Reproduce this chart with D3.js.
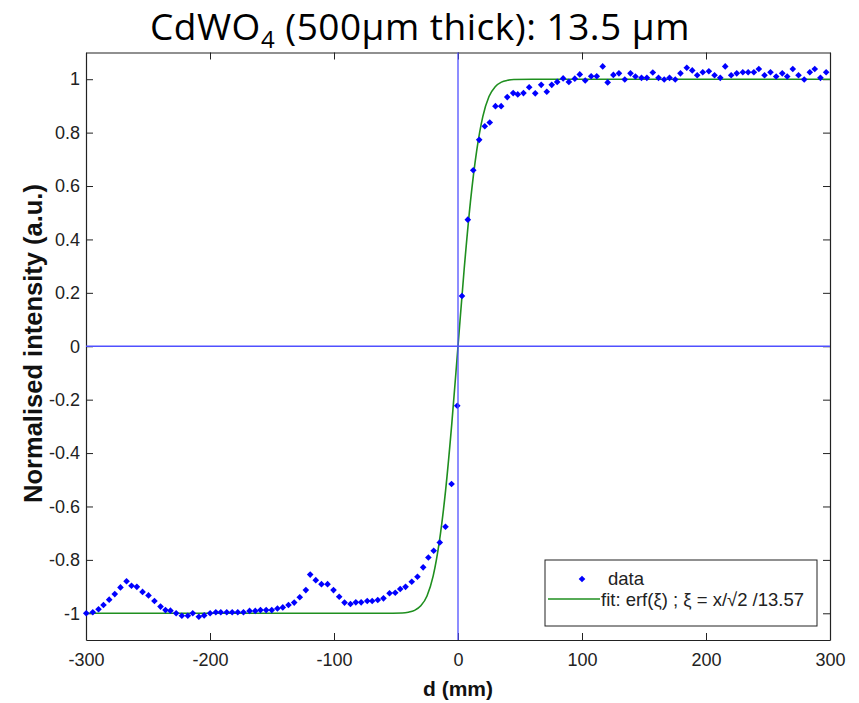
<!DOCTYPE html>
<html>
<head>
<meta charset="utf-8">
<script src="https://cdn.jsdelivr.net/npm/d3@7"></script>
<style>
  body { margin: 0; background: #fff; }
  svg { display: block; }
</style>
</head>
<body>
<div id="chart-wrapper"></div>
<script>
// measured points (d in mm, normalised intensity)
const dataD = [
  -299.8, -294.5, -289.9, -285.9, -281.3, -276.8, -272.2, -267.3, -263.3, -259.0,
  -254.4, -249.6, -244.8, -239.9, -235.9, -231.9, -227.3, -222.7, -217.9, -213.9,
  -209.0, -204.7, -199.9, -195.3, -191.3, -186.5, -182.1, -177.6, -173.0, -168.1,
  -163.5, -159.3, -154.7, -150.2, -145.6, -141.3, -136.7, -132.1, -127.6, -122.7,
  -119.2, -114.7, -110.1, -105.2, -100.4, -95.8, -91.5, -86.7, -82.4,
  -78.1, -73.2, -69.2, -64.7, -60.1, -55.2, -50.6, -46.6, -42.3, -37.3,
  -32.7, -28.1, -23.9, -19.6, -14.7, -10.1, -5.2, -0.6, 3.2, 7.9,
  12.3, 17.1, 21.6, 25.6, 30.2, 34.8, 39.7, 44.5, 48.2, 52.8,
  57.4, 62.3, 67.1, 71.6, 75.6, 80.0, 84.8, 89.4, 94.2, 98.2,
  102.6, 107.4, 111.9,
  116.7, 120.7, 125.3, 129.8, 134.5, 139.1, 143.1, 148.0, 152.3, 157.1,
  161.7, 166.3, 170.6, 175.2, 179.4, 184.5, 188.9, 192.9, 197.4, 202.3,
  206.9, 211.5, 215.5, 220.3, 224.8, 229.7, 234.0, 238.6, 242.6, 247.2,
  252.0, 256.6, 261.5, 265.5, 270.0, 274.6, 279.2, 283.7, 287.7, 292.3, 296.9
]
const dataI = [
  -1.000, -0.996, -0.985, -0.969, -0.949, -0.928, -0.903, -0.880, -0.897, -0.901,
  -0.920, -0.933, -0.954, -0.975, -0.988, -0.990, -1.000, -1.009, -1.009, -1.000,
  -1.013, -1.008, -1.000, -0.996, -0.996, -0.996, -0.996, -0.996, -0.996, -0.991,
  -0.991, -0.988, -0.988, -0.988, -0.982, -0.978, -0.969, -0.960, -0.940, -0.913,
  -0.855, -0.876, -0.891, -0.891, -0.913, -0.938, -0.960, -0.965, -0.959,
  -0.959, -0.954, -0.954, -0.950, -0.944, -0.925, -0.923, -0.909, -0.901, -0.882,
  -0.863, -0.828, -0.791, -0.766, -0.735, -0.676, -0.516, -0.223, 0.188, 0.474,
  0.659, 0.773, 0.824, 0.838, 0.899, 0.899, 0.933, 0.948, 0.943, 0.948,
  0.970, 0.947, 0.979, 0.953, 0.979, 0.990, 1.003, 0.990, 1.002, 1.018,
  0.995, 1.011, 1.011,
  1.048, 0.988, 1.016, 1.022, 0.999, 1.022, 1.010, 1.005, 1.005, 1.025,
  1.005, 0.999, 1.005, 0.999, 1.022, 1.043, 1.033, 1.015, 1.026, 1.030,
  1.015, 1.005, 1.048, 1.015, 1.022, 1.026, 1.026, 1.026, 1.038, 1.015,
  1.026, 1.010, 1.022, 1.010, 1.038, 1.015, 0.999, 1.026, 1.038, 1.005, 1.026
]

// fitted curve
const fitD = [-300, -60, -45, -40, -35, -30, -25, -20, -15, -10, -5, 0, 5, 10, 15, 20, 25, 30, 35, 40, 45, 60, 300]
const fitI = [-1.0, -1.0, -0.999, -0.996, -0.989, -0.972, -0.935, -0.86, -0.73, -0.54, -0.29, 0.0,
  0.29, 0.54, 0.73, 0.86, 0.935, 0.972, 0.989, 0.996, 0.999, 1.0, 1.0]

const xTickValues = [-300, -200, -100, 0, 100, 200, 300]
const yTickValues = [-1, -0.8, -0.6, -0.4, -0.2, 0, 0.2, 0.4, 0.6, 0.8, 1]
const legendLabels = ["data", "fit: erf(\u03BE) ; \u03BE = x/\u221A2 /13.57"]

const points = dataD.map((d, i) => ({ d: d, v: dataI[i] }))
const fitPoints = fitD.map((d, i) => ({ d: d, v: fitI[i] }))

let dimensions = {
  width: 859,
  height: 703,
  margin: { top: 52.5, right: 29, bottom: 63, left: 86 },
}
dimensions.boundedWidth = dimensions.width - dimensions.margin.left - dimensions.margin.right
dimensions.boundedHeight = dimensions.height - dimensions.margin.top - dimensions.margin.bottom

const xScale = d3.scaleLinear()
    .domain([-300, 300])
    .range([0, dimensions.boundedWidth])

const yScale = d3.scaleLinear()
    .domain([-1.1, 1.1])
    .range([dimensions.boundedHeight, 0])

const wrapper = d3.select("#chart-wrapper")
  .append("svg")
    .attr("width", dimensions.width)
    .attr("height", dimensions.height)

wrapper.append("rect")
    .attr("width", dimensions.width)
    .attr("height", dimensions.height)
    .attr("fill", "#fff")

// title
const title = wrapper.append("text")
    .attr("x", 150)
    .attr("y", 40)
    .attr("font-family", "'Open Sans', sans-serif")
    .attr("font-size", 37)
    .attr("letter-spacing", 0.5)
    .attr("fill", "#000")
title.append("tspan").text("CdWO")
title.append("tspan").attr("font-size", 24).attr("dy", 8).text("4")
title.append("tspan").attr("dy", -8).text(" (500\u03BCm thick): 13.5 \u03BCm")

const bounds = wrapper.append("g")
    .attr("transform", `translate(${dimensions.margin.left}, ${dimensions.margin.top})`)

// axes
const axisColor = "#222"
const tickFont = "Arial, 'Liberation Sans', sans-serif"

const xAxis = bounds.append("g")
    .attr("transform", `translate(0, ${dimensions.boundedHeight})`)
    .call(d3.axisBottom(xScale).tickValues(xTickValues).tickSizeInner(-7).tickSizeOuter(0).tickPadding(13)
      .tickFormat(d => String(d)))
const xAxisTop = bounds.append("g")
    .call(d3.axisTop(xScale).tickValues(xTickValues).tickSizeInner(-7).tickSizeOuter(0).tickFormat(""))
const yAxis = bounds.append("g")
    .call(d3.axisLeft(yScale).tickValues(yTickValues).tickSizeInner(-7).tickSizeOuter(0).tickPadding(6)
      .tickFormat(d => String(+d.toFixed(1))))
const yAxisRight = bounds.append("g")
    .attr("transform", `translate(${dimensions.boundedWidth}, 0)`)
    .call(d3.axisRight(yScale).tickValues(yTickValues).tickSizeInner(-7).tickSizeOuter(0).tickFormat(""))

;[xAxis, xAxisTop, yAxis, yAxisRight].forEach(a => {
  a.select(".domain").attr("stroke", axisColor).attr("stroke-width", 1.2)
  a.selectAll(".tick line").attr("stroke", axisColor).attr("stroke-width", 1)
  a.selectAll(".tick text")
      .attr("font-family", tickFont)
      .attr("font-size", 18)
      .attr("fill", "#222")
})

// fit curve
const lineGenerator = d3.line()
    .x(d => xScale(d.d))
    .y(d => yScale(d.v))
    .curve(d3.curveMonotoneX)

bounds.append("path")
    .attr("d", lineGenerator(fitPoints))
    .attr("fill", "none")
    .attr("stroke", "#1f8f1f")
    .attr("stroke-width", 1.6)

// data markers
const marker = d3.symbol().type(d3.symbolDiamond2).size(28)
bounds.append("g")
  .selectAll("path")
  .data(points)
  .join("path")
    .attr("transform", d => `translate(${xScale(d.d)}, ${yScale(d.v)})`)
    .attr("d", marker)
    .attr("fill", "#0000ff")

// zero lines
bounds.append("line")
    .attr("x1", xScale(0)).attr("x2", xScale(0))
    .attr("y1", 0).attr("y2", dimensions.boundedHeight)
    .attr("stroke", "#5050ff")
    .attr("stroke-width", 1.3)
bounds.append("line")
    .attr("x1", 0).attr("x2", dimensions.boundedWidth)
    .attr("y1", yScale(0)).attr("y2", yScale(0))
    .attr("stroke", "#5050ff")
    .attr("stroke-width", 1.3)

// axis labels
wrapper.append("text")
    .attr("x", 458)
    .attr("y", 696)
    .attr("text-anchor", "middle")
    .attr("font-family", tickFont)
    .attr("font-size", 21)
    .attr("font-weight", "bold")
    .attr("fill", "#111")
    .text("d (mm)")

wrapper.append("text")
    .attr("transform", "translate(42, 343.5) rotate(-90)")
    .attr("text-anchor", "middle")
    .attr("font-family", tickFont)
    .attr("font-size", 25.5)
    .attr("font-weight", "bold")
    .attr("fill", "#111")
    .text("Normalised intensity (a.u.)")

// legend
const legend = wrapper.append("g")
legend.append("rect")
    .attr("x", 545).attr("y", 560)
    .attr("width", 272).attr("height", 66)
    .attr("fill", "#fff")
    .attr("stroke", axisColor)
    .attr("stroke-width", 1)
legend.append("path")
    .attr("transform", "translate(582, 579)")
    .attr("d", marker)
    .attr("fill", "#0000ff")
legend.append("line")
    .attr("x1", 548).attr("x2", 600)
    .attr("y1", 599).attr("y2", 599)
    .attr("stroke", "#1f8f1f")
    .attr("stroke-width", 1.6)
legend.selectAll("text")
  .data(legendLabels)
  .join("text")
    .attr("x", (d, i) => i == 0 ? 608 : 601)
    .attr("y", (d, i) => i == 0 ? 585 : 606)
    .attr("font-family", tickFont)
    .attr("font-size", 18.5)
    .attr("fill", "#222")
    .text(d => d)
</script>
</body>
</html>
